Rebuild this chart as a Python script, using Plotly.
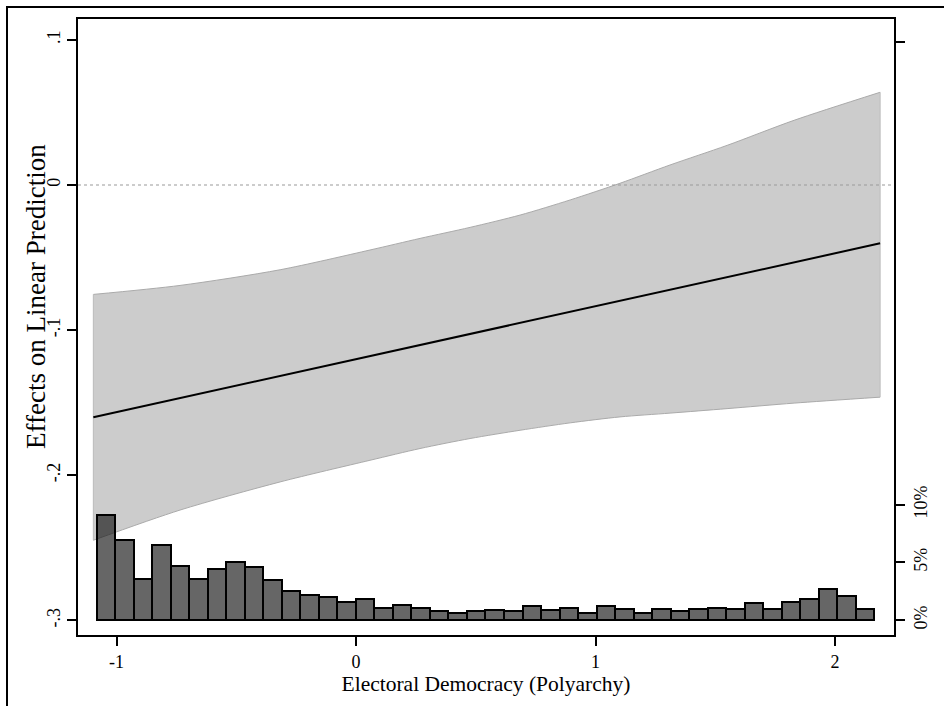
import numpy as np
import plotly.graph_objects as go

# ---- data ----
# marginal-effect line (straight) endpoints
line_x = [-1.097, 2.188]
line_y = [-0.160, -0.0402]

# confidence band
band_x = [-1.097, -0.735, -0.317, 0.058, 0.267, 0.476, 0.685, 0.894, 1.102, 1.311, 1.549, 1.829, 2.188]
band_upper = [-0.0754, -0.0692, -0.0584, -0.0448, -0.0368, -0.0292, -0.0207, -0.0103, 0.0012, 0.0138, 0.0273, 0.0446, 0.0639]
band_lower = [-0.2448, -0.2240, -0.2046, -0.1897, -0.1816, -0.1747, -0.1690, -0.1639, -0.1598, -0.1572, -0.1541, -0.1503, -0.1462]

# histogram of Electoral Democracy (percent per bin)
hist_pct = [9.1, 6.9, 3.6, 6.5, 4.7, 3.6, 4.4, 5.0, 4.6, 3.5,
            2.5, 2.2, 2.0, 1.6, 1.8, 1.1, 1.3, 1.1, 0.8, 0.6,
            0.8, 0.9, 0.8, 1.2, 0.9, 1.1, 0.6, 1.2, 1.0, 0.6,
            1.0, 0.8, 1.0, 1.1, 1.0, 1.5, 1.0, 1.6, 1.8, 2.7,
            2.1, 1.0]
bin_start = -1.083
bin_width = 0.0773

x_ticks = [-1, 0, 1, 2]
x_ticktext = ["-1", "0", "1", "2"]
y_ticks = [0.1, 0, -0.1, -0.2, -0.3]
y_ticktext = [".1", "0", "-.1", "-.2", "-.3"]
y2_ticks = [0, 5, 10, 50]
y2_ticktext = ["0%", "5%", "10%", ""]

bin_centers = bin_start + bin_width * (np.arange(len(hist_pct)) + 0.5)

FONT = "Liberation Serif, Times New Roman, serif"

fig = go.Figure()

# lower edge of band (no fill), then upper edge filled to it
fig.add_trace(go.Scatter(
    x=band_x, y=band_lower, mode="lines",
    line=dict(color="#aaaaaa", width=1, shape="spline", smoothing=0.8),
    hoverinfo="skip", showlegend=False, yaxis="y"))
fig.add_trace(go.Scatter(
    x=band_x, y=band_upper, mode="lines", fill="tonexty", fillcolor="#cccccc",
    line=dict(color="#aaaaaa", width=1, shape="spline", smoothing=0.8),
    hoverinfo="skip", showlegend=False, yaxis="y"))
# vertical end edges of the band
for i in (0, -1):
    fig.add_trace(go.Scatter(
        x=[band_x[i], band_x[i]], y=[band_lower[i], band_upper[i]], mode="lines",
        line=dict(color="#bbbbbb", width=1), hoverinfo="skip", showlegend=False, yaxis="y"))

fig.add_trace(go.Scatter(
    x=line_x, y=line_y, mode="lines",
    line=dict(color="black", width=2), showlegend=False, yaxis="y"))

fig.add_trace(go.Bar(
    x=bin_centers, y=hist_pct, width=[bin_width] * len(hist_pct),
    marker=dict(color="rgba(20,20,20,0.65)", line=dict(color="black", width=2)),
    showlegend=False, yaxis="y2"))

# dotted zero reference line
fig.add_shape(type="line", xref="paper", x0=0, x1=1, yref="y", y0=0, y1=0,
              line=dict(color="#999999", width=1.2, dash="dot"), layer="above")

# outer page border (top + left visible)
fig.add_shape(type="rect", xref="paper", yref="paper",
              x0=(7 - 78) / 816, x1=(960 - 78) / 816,
              y0=(635 - 720) / 616, y1=(635 - 7) / 616,
              line=dict(color="black", width=2), layer="above")

fig.add_annotation(text="Effects on Linear Prediction", textangle=-90,
                   xref="paper", yref="paper", xanchor="center", yanchor="middle",
                   x=(36 - 78) / 816, y=(635 - 297) / 616,
                   showarrow=False, font=dict(family=FONT, size=27, color="black"))

fig.update_layout(
    width=944, height=706,
    margin=dict(l=78, r=50, t=19, b=71),
    paper_bgcolor="white", plot_bgcolor="white",
    font=dict(family=FONT, size=18, color="black"),
    bargap=0,
    xaxis=dict(range=[-1.161, 2.246], tickvals=x_ticks, ticktext=x_ticktext,
               ticks="outside", ticklen=9, tickwidth=1.5, tickcolor="black",
               showline=True, linewidth=2, linecolor="black", mirror=True,
               showgrid=False, zeroline=False,
               title=dict(text="Electoral Democracy (Polyarchy)",
                          font=dict(family=FONT, size=21.5), standoff=0)),
    yaxis=dict(range=[-0.3101, 0.1144], tickvals=y_ticks, ticktext=y_ticktext,
               tickangle=-90, ticks="outside", ticklen=9, tickwidth=1.5,
               tickcolor="black", showline=True, linewidth=2, linecolor="black",
               showgrid=False, zeroline=False),
    yaxis2=dict(range=[-1.27, 51.97], tickvals=y2_ticks, ticktext=y2_ticktext,
                tickangle=-90, ticks="outside", ticklen=9, tickwidth=1.5,
                tickcolor="black", showline=True, linewidth=2, linecolor="black",
                side="right", overlaying="y", showgrid=False, zeroline=False),
)

fig.write_html("out.html")
